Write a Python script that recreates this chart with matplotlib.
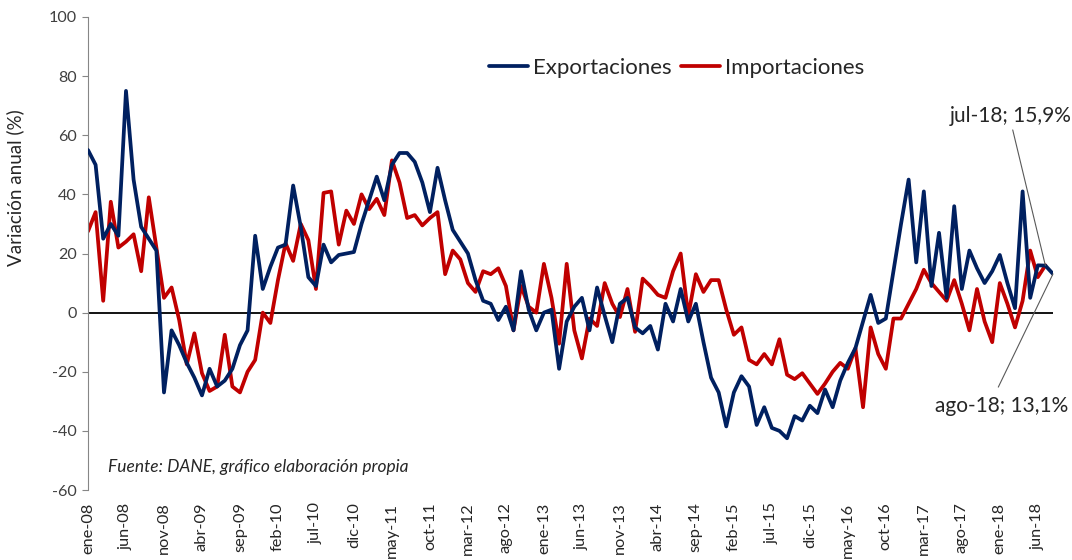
import matplotlib.pyplot as plt
import numpy as np

# variación anual (%) mensual, ene-08 a ago-18
exportaciones = [
    55, 50, 25, 30, 26, 75, 45, 29, 25, 21,
    -27, -6, -11, -17, -22, -28, -19, -25, -23, -19,
    -11, -6, 26, 8, 15.5, 22, 23, 43, 29, 12,
    9, 23, 17, 19.5, 20, 20.5, 30, 38, 46, 38,
    50, 54, 54, 51, 44, 34, 49, 38, 28, 24,
    20, 11, 4, 3, -2.5, 2, -6, 14, 1, -6,
    0, 1, -19, -3, 2, 5, -6, 8.5, -1, -10,
    3, 5, -5, -7, -4.5, -12.5, 3, -3, 8, -3,
    3, -10, -22, -27, -38.5, -27, -21.5, -25, -38, -32,
    -39, -40, -42.5, -35, -36.5, -31.5, -34, -26, -32, -23,
    -17, -12, -3, 6, -3.5, -2, 14, 30, 45, 17,
    41, 9, 27, 5, 36, 8, 21, 15, 10, 14,
    19.5, 10, 1.5, 41, 5, 16, 15.9, 13.1,
]

importaciones = [
    27.5, 34, 4, 37.5, 22, 24, 26.5, 14, 39, 22,
    5, 8.5, -2.5, -17.5, -7, -20.5, -26.5, -25, -7.5, -25,
    -27, -20, -16, 0, -3.5, 11, 23.5, 17.5, 30, 24.5,
    8, 40.5, 41, 23, 34.5, 30, 40, 35, 38.5, 33,
    51.5, 44, 32, 33, 29.5, 32, 34, 13, 21, 18,
    10, 7, 14, 13, 15, 9, -6, 9, 2, 0,
    16.5, 5, -10.5, 16.5, -6, -15.5, -2, -4.5, 10, 3,
    -1.5, 8, -6.5, 11.5, 9, 6, 5, 14, 20, -1,
    13, 7, 11, 11, 1, -7.5, -5, -16, -17.5, -14,
    -17.5, -9, -21, -22.5, -20.5, -24, -27.5, -24, -20, -17,
    -19, -12, -32, -5, -14, -19, -2, -2, 3, 8,
    14.5, 10, 7, 4, 11, 3, -6, 8, -3, -10,
    10, 3, -5, 4, 21, 12, 16,
]

etiquetas_x = [
    'ene-08', 'jun-08', 'nov-08', 'abr-09', 'sep-09', 'feb-10', 'jul-10',
    'dic-10', 'may-11', 'oct-11', 'mar-12', 'ago-12', 'ene-13', 'jun-13',
    'nov-13', 'abr-14', 'sep-14', 'feb-15', 'jul-15', 'dic-15', 'may-16',
    'oct-16', 'mar-17', 'ago-17', 'ene-18', 'jun-18',
]
paso_etiquetas = 5  # una etiqueta cada 5 meses

azul = '#002060'
rojo = '#C00000'
gris = '#404040'

plt.rcParams['font.family'] = ['Lato', 'DejaVu Sans']
plt.rcParams['axes.unicode_minus'] = False

fig = plt.figure(figsize=(10.72, 5.6), dpi=100)
ax = fig.add_axes([88 / 1072, 1 - 490 / 560, 965 / 1072, 473 / 560])

x_exp = np.arange(len(exportaciones))
x_imp = np.arange(len(importaciones))

ax.axhline(0, color='black', lw=1.3, zorder=1)
ax.plot(x_exp, exportaciones, color=azul, lw=2.7, label='Exportaciones',
        solid_joinstyle='round', solid_capstyle='round', zorder=3)
ax.plot(x_imp, importaciones, color=rojo, lw=2.7, label='Importaciones',
        solid_joinstyle='round', solid_capstyle='round', zorder=2)

ax.set_xlim(0, len(exportaciones) - 1)
ax.set_ylim(-60, 100)
ax.set_yticks(np.arange(-60, 101, 20))
ax.set_xticks(np.arange(len(etiquetas_x)) * paso_etiquetas)
ax.set_xticklabels(etiquetas_x, rotation=90)

for s in ['top', 'right', 'bottom']:
    ax.spines[s].set_visible(False)
ax.spines['left'].set_color('#868686')
ax.tick_params(axis='y', direction='out', length=4, color='#868686',
               labelsize=11.6, labelcolor=gris, pad=4)
ax.tick_params(axis='x', length=0, labelsize=11.8, labelcolor='#262626', pad=9)

ax.set_ylabel('Variación anual (%)', fontsize=13.5, color='#262626')
ax.yaxis.set_label_coords(-0.066, 0.64)

ax.legend(loc='center', bbox_to_anchor=(0.61, 0.892), ncol=2, frameon=False,
          fontsize=16, handlelength=1.75, handletextpad=0.2,
          columnspacing=0.45, labelcolor='#262626')

ax.text(0.0207, 0.0486, 'Fuente: DANE, gráfico elaboración propia',
        transform=ax.transAxes, fontsize=12.5, style='italic',
        color='#262626', va='center', ha='left')

# rótulos de datos de los dos últimos meses
n = len(exportaciones)
ax.annotate('', xy=(n - 2, exportaciones[-2]), xytext=(121.7, 61.8),
            arrowprops=dict(arrowstyle='-', color='#595959', lw=0.8,
                            shrinkA=0, shrinkB=0))
ax.text(121.4, 66.5, f'jul-18; {str(exportaciones[-2]).replace(".", ",")}%',
        fontsize=15, color='#262626', ha='center', va='center')
ax.annotate('', xy=(n - 1, exportaciones[-1]), xytext=(119.8, -25.2),
            arrowprops=dict(arrowstyle='-', color='#595959', lw=0.8,
                            shrinkA=0, shrinkB=0))
ax.text(120.2, -31.5, f'ago-18; {str(exportaciones[-1]).replace(".", ",")}%',
        fontsize=15, color='#262626', ha='center', va='center')

fig.savefig('out.png', dpi=100)
